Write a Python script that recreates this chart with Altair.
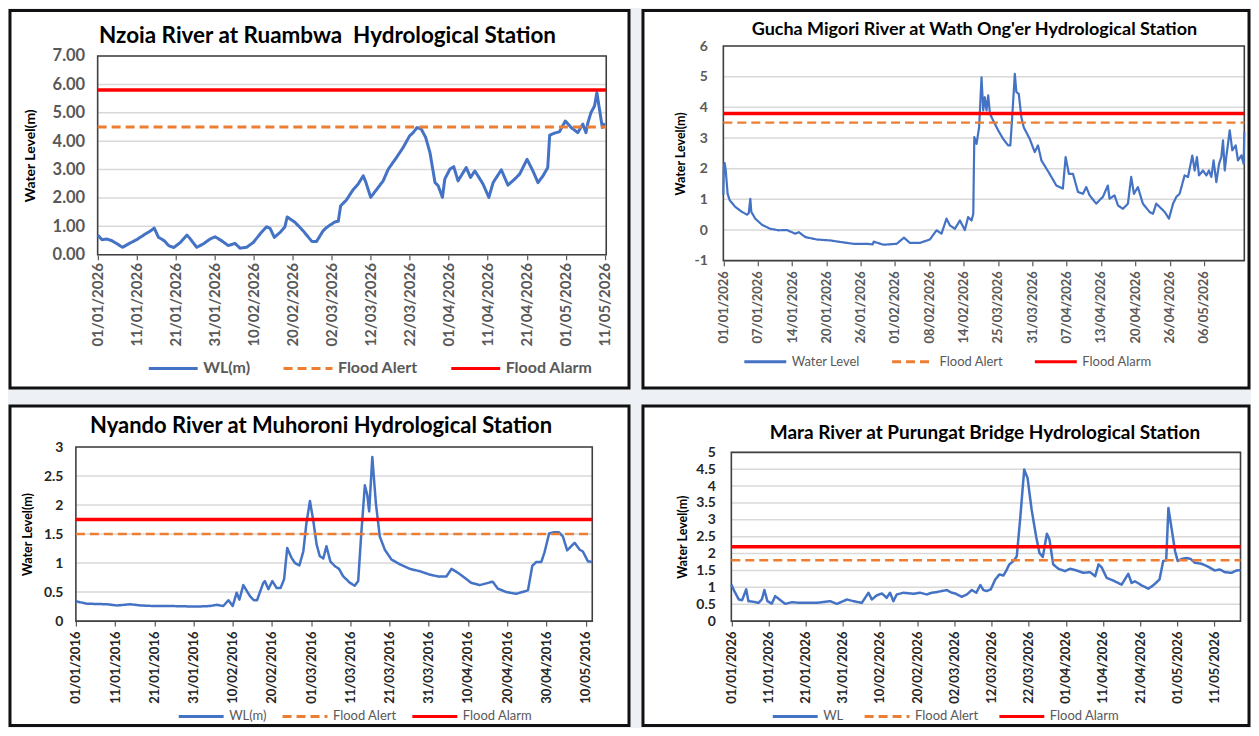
import altair as alt
import pandas as pd

FONT = "Lato"
BLUE, ORANGE, RED = "#4472C4", "#ED7D31", "#FF0000"

# ---------------- Nzoia River at Ruambwa (days since 01/01/2026) ----------------
NZ_DAY = [0, 1.1, 2.4, 3.7, 6.4, 7.9, 10, 11.8, 13.9, 14.5, 15.6, 17.1, 18.2, 19.5, 21.2, 22.9, 23.6,
          25.4, 27.1, 28.8, 30.1, 31.8, 33.5, 35.2, 36.5, 38.2, 39.9, 42, 43.3, 44.2, 45.3, 46.8, 48,
          48.6, 50.6, 52.7, 54.9, 56.1, 57.8, 58.7, 60.8, 61.7, 62.3, 63.8, 65.5, 66.8, 68.1, 68.8, 70,
          71.5, 73.2, 74.5, 76.6, 78.3, 80, 80.9, 81.9, 83, 84.1, 85.2, 86.5, 87.3, 88.4, 89, 90.3, 91.3,
          92.4, 94.5, 95.6, 96.7, 97.5, 98.8, 100.3, 101.4, 103.5, 105.2, 106.9, 108.2, 110.1, 111.6,
          112.9, 114.2, 115.4, 115.9, 117.1, 118.4, 119.9, 121.4, 123.1, 124.4, 125.2, 125.7, 126.5,
          127.4, 128, 129.4, 130]
NZ_WL = [0.69, 0.53, 0.55, 0.49, 0.26, 0.38, 0.53, 0.69, 0.87, 0.94, 0.61, 0.49, 0.32, 0.25, 0.43, 0.69, 0.58,
         0.26, 0.38, 0.55, 0.63, 0.49, 0.32, 0.40, 0.23, 0.26, 0.43, 0.79, 0.98, 0.93, 0.61, 0.79, 0.98,
         1.33, 1.14, 0.84, 0.47, 0.46, 0.84, 0.96, 1.15, 1.18, 1.72, 1.93, 2.29, 2.49, 2.78, 2.54, 2.02,
         2.29, 2.60, 3.01, 3.42, 3.77, 4.19, 4.30, 4.48, 4.42, 4.13, 3.60, 2.54, 2.43, 2.02, 2.66, 3.01, 3.10,
         2.60, 3.07, 2.72, 2.95, 2.78, 2.49, 2.02, 2.54, 2.99, 2.45, 2.66, 2.84, 3.36, 2.95,
         2.54, 2.78, 3.07, 4.21, 4.28, 4.33, 4.71, 4.48, 4.30, 4.60, 4.30, 4.65, 5.01,
         5.24, 5.71, 4.48, 4.63]
NZ_ALERT, NZ_ALARM = 4.5, 5.8
NZ_YTICKS = [0, 1, 2, 3, 4, 5, 6, 7]
NZ_XTICKS = [0, 10, 20, 30, 40, 50, 60, 70, 80, 90, 100, 110, 120, 130]

# ---------------- Gucha Migori River at Wath Ong'er (category steps) ----------------
GU_STEP = [0, 0.3, 0.8, 1.4, 2.5, 3.7, 7, 10.9, 13.8, 14.8, 15.7, 16.3, 18.6, 22.5, 27.3, 32.2, 37, 41.9, 44,
           47.7, 54.5, 62.2, 68.1, 75.8, 83.6, 87, 87.6, 93.2, 101, 105.2, 108.7, 114.5, 120.3, 124.2, 127.1,
           130, 132, 134.9, 137.8, 140.7, 142.6, 144.6, 145.6, 146.2, 147.5, 149, 150.4, 151.4, 152.3, 153.3,
           154.3, 155.3, 157.2, 160.1, 163, 165.9, 167.2, 168.4, 169.8, 170.7, 172.1, 173.6, 175, 178.5,
           181.4, 183.3, 185.3, 190.1, 194, 197.8, 199.4, 201.3, 203.7, 206.6, 209.5, 211.4, 213.4, 217.2,
           221.1, 224, 225, 227.9, 229.9, 232.8, 235.7, 237.6, 239.2, 241.5, 244.4, 248.3, 250.3, 252.2,
           254.2, 257.1, 259.6, 262, 263.9, 265.8, 268.7, 270.7, 273.2, 274.6, 275.9, 277.1, 279.4, 281.4,
           282.9, 284.3, 285.6, 287.2, 288.8, 290.1, 291.1, 292.1, 293, 295, 296.5, 298.5, 299.8, 301.8,
           303.1, 303.5]
GU_WL = [1.15, 2.05, 2.18, 1.94, 1.18, 0.97, 0.75, 0.59, 0.50, 0.55, 1.02, 0.59, 0.37, 0.17, 0.04, -0.01, 0.0, -0.12, -0.07,
         -0.23, -0.31, -0.34, -0.39, -0.45, -0.45, -0.47, -0.38, -0.48, -0.45, -0.25, -0.42, -0.42, -0.31, -0.01, -0.12,
         0.37, 0.15, 0.04, 0.31, 0.0, 0.42, 0.31, 0.53, 3.03, 2.81, 3.35, 4.98, 3.90, 4.33, 3.90,
         4.39, 3.79, 3.57, 3.25, 2.97, 2.76, 2.76, 3.79, 5.09, 4.50, 4.44, 3.68, 3.35, 2.97,
         2.54, 2.76, 2.27, 1.83, 1.45, 1.35, 2.38, 1.83, 1.83, 1.24, 1.18, 1.40, 1.13, 0.86,
         1.08, 1.45, 1.02, 1.13, 0.80, 0.69, 0.86, 1.73, 1.18, 1.40, 0.86, 0.59, 0.53, 0.86,
         0.75, 0.59, 0.37, 0.86, 1.08, 1.18, 1.78, 1.73, 2.43, 1.94, 2.38, 1.78, 1.94, 1.78,
         1.94, 1.73, 2.27, 1.56, 2.16, 2.38, 2.92, 1.94, 2.38, 3.25, 2.60, 2.76, 2.27, 2.43,
         2.16, 3.19]
GU_ALERT, GU_ALARM = 3.5, 3.8
GU_YTICKS = [-1, 0, 1, 2, 3, 4, 5, 6]
GU_XTICKS = [0, 20, 40, 60, 80, 100, 120, 140, 160, 180, 200, 220, 240, 260, 280]
GU_XLABELS = ["01/01/2026", "07/01/2026", "14/01/2026", "20/01/2026", "26/01/2026", "01/02/2026",
              "08/02/2026", "14/02/2026", "25/03/2026", "31/03/2026", "07/04/2026", "13/04/2026",
              "20/04/2026", "26/04/2026", "06/05/2026"]

# ---------------- Nyando River at Muhoroni (days since 01/01/2016) ----------------
NY_DAY = [0, 2.8, 7.9, 10.5, 13.9, 16.4, 19.8, 24, 30.8, 34.2, 35.9, 37.6, 38.9, 40, 41, 41.7, 42.7, 44.4, 45.4,
          46.2, 47.8, 48.2, 49.1, 50.1, 51.2, 52.2, 53.1, 53.9, 55, 55.9, 57, 58, 58.8, 59.7, 60.5, 61.4, 62.2,
          63.1, 63.9, 64.9, 66, 67.1, 68.2, 69.9, 71.1, 72, 72.8, 73.7, 74.3, 74.8, 75.6, 76.5, 77.5, 78.8,
          80.5, 82.6, 85.2, 87.7, 90.3, 92.4, 94.5, 95.8, 97.5, 99.1, 100.8, 103, 106.3, 107.6, 109.8, 112.3,
          115.3, 116.4, 117.4, 118.7, 119.5, 120.7, 121.7, 123.2, 124.2, 125.3, 127.2, 128.5, 129.3, 130.6,
          131.7]
NY_WL = [0.34, 0.30, 0.29, 0.27, 0.29, 0.27, 0.26, 0.26, 0.25, 0.26, 0.28, 0.26, 0.36, 0.26, 0.49, 0.37, 0.62, 0.43, 0.36,
         0.36, 0.66, 0.69, 0.55, 0.69, 0.57, 0.57, 0.72, 1.26, 1.09, 1.00, 0.96, 1.20, 1.69, 2.07, 1.75, 1.32, 1.12,
         1.08, 1.29, 1.03, 0.95, 0.90, 0.77, 0.66, 0.61, 0.69, 1.52, 2.34, 2.18, 1.89, 2.83, 2.04, 1.46, 1.23,
         1.06, 0.98, 0.90, 0.86, 0.80, 0.77, 0.77, 0.90, 0.83, 0.75, 0.66, 0.62, 0.68, 0.56, 0.50, 0.47,
         0.53, 0.95, 1.02, 1.02, 1.18, 1.51, 1.53, 1.53, 1.46, 1.22, 1.35, 1.23, 1.20, 1.03,
         1.02]
NY_ALERT, NY_ALARM = 1.5, 1.75
NY_YTICKS = [0, 0.5, 1, 1.5, 2, 2.5, 3]
NY_XTICKS = [0, 10, 20, 30, 40, 50, 60, 70, 80, 90, 100, 110, 120, 130]

# ---------------- Mara River at Purungat Bridge (days since 01/01/2026) ----------------
MA_DAY = [0, 0.8, 2, 2.9, 4, 4.6, 6, 7.3, 8.2, 8.9, 9.7, 10.9, 11.8, 13.2, 14.5, 16.3, 18.5, 23, 26.6, 28.4,
          31.1, 32.9, 35.1, 36.9, 37.8, 39.1, 40.5, 41.8, 42.7, 43.6, 44.5, 46.3, 49, 50.8, 52.6, 53.9, 55.3,
          56.6, 58, 59.3, 60.2, 62, 63.4, 64.7, 65.9, 67, 67.8, 68.7, 69.8, 71, 72.1, 73.2, 73.9, 74.8, 75.9,
          76.8, 77.7, 78.8, 79.7, 80.8, 82, 82.9, 83.8, 84.9, 85.6, 86.6, 88, 89.8, 91.1, 92.9, 94.7, 96.5,
          97.9, 98.8, 99.6, 101, 102.8, 105, 106.8, 107.7, 108.6, 110.4, 112.2, 113.5, 115.2, 116.2, 117,
          117.6, 118.5, 119.4, 120.1, 121.1, 122.5, 123.6, 124.7, 126.5, 128.3, 130.1, 131.4, 132.8, 134.6,
          135.9, 137]
MA_WL = [1.08, 0.89, 0.64, 0.62, 0.94, 0.59, 0.57, 0.54, 0.64, 0.92, 0.59, 0.52, 0.74, 0.62, 0.51, 0.56, 0.54, 0.54, 0.59, 0.51,
         0.64, 0.59, 0.54, 0.84, 0.64, 0.76, 0.82, 0.69, 0.84, 0.59, 0.79, 0.84, 0.81, 0.84, 0.79, 0.84, 0.86,
         0.89, 0.92, 0.84, 0.82, 0.72, 0.79, 0.92, 0.84, 1.07, 0.92, 0.89, 0.94, 1.23, 1.38, 1.35, 1.48, 1.68, 1.78,
         1.92, 3.01, 4.49, 4.24, 3.30, 2.51, 2.02, 1.90, 2.59, 2.42, 1.68, 1.55, 1.48, 1.55, 1.50, 1.43, 1.45,
         1.33, 1.68, 1.60, 1.28, 1.20, 1.08, 1.40, 1.13, 1.18, 1.06, 0.96, 1.06, 1.23, 1.78, 1.80,
         3.35, 2.71, 2.07, 1.78, 1.84, 1.87, 1.84, 1.73, 1.70, 1.61, 1.50, 1.53, 1.45, 1.43,
         1.50, 1.51]
MA_ALERT, MA_ALARM = 1.8, 2.2
MA_YTICKS = [0, 0.5, 1, 1.5, 2, 2.5, 3, 3.5, 4, 4.5, 5]
MA_XTICKS = [0, 10, 20, 30, 40, 50, 60, 70, 80, 90, 100, 110, 120, 130]

assert len(NZ_DAY) == len(NZ_WL) and len(GU_STEP) == len(GU_WL)
assert len(NY_DAY) == len(NY_WL) and len(MA_DAY) == len(MA_WL)

SERIES_COLORS = [BLUE, ORANGE, RED]
SERIES_DASH = [[1, 0], [9, 5], [1, 0]]


def panel(title, xs, ws, alert, alarm, names, xdom, ydom, yticks, xticks, xlab, ylab, g):
    W, H = g["W"], g["H"]
    xr, yr = g["xr"], g["yr"]
    xsc = alt.Scale(domain=xdom, range=xr, nice=False, zero=False)
    ysc = alt.Scale(domain=ydom, range=yr, nice=False, zero=False)
    xaxis = alt.Axis(values=xticks, labelExpr=xlab, labelAngle=270, labelAlign="right",
                     labelBaseline="middle", labelFont=FONT, labelFontSize=g["xfs"],
                     labelFontWeight="bold", labelColor=g["lc"], labelPadding=g["xpad"],
                     labelOverlap=False, labelFlush=False, ticks=True, tickSize=5,
                     tickColor="#595959", tickWidth=1.2, domain=False, grid=False, title=None,
                     offset=yr[0] - H)
    yaxis = alt.Axis(values=yticks, labelExpr=ylab, labelFont=FONT, labelFontSize=g["yfs"],
                     labelFontWeight="bold", labelColor=g["lc"], labelPadding=g["ypad"],
                     ticks=False, domain=False, grid=False, labelFlush=False, labelOverlap=False,
                     title="Water Level(m)", titleFont=FONT, titleFontSize=g["tfs"],
                     titleFontWeight="bold", titleColor="black", titleAngle=270,
                     titleAlign="center", titleBaseline="middle",
                     titleX=g["tx"] - xr[0], titleY=(yr[0] + yr[1]) / 2, offset=-xr[0])
    X = alt.X("x:Q", scale=xsc, axis=xaxis)
    Y = alt.Y("y:Q", scale=ysc, axis=yaxis)

    grid_df = pd.DataFrame({"x": [xdom[0]] * len(yticks), "x2": [xdom[1]] * len(yticks), "y": yticks})
    grid = alt.Chart(grid_df).mark_rule(color="#d9d9d9", strokeWidth=1.5).encode(x=X, x2="x2", y=Y)

    frame_df = pd.DataFrame({"x": [xdom[0]], "x2": [xdom[1]], "y": [ydom[0]], "y2": [ydom[1]]})
    frame = alt.Chart(frame_df).mark_rect(fillOpacity=0, stroke="#404040", strokeWidth=1.6).encode(
        x=X, x2="x2", y=Y, y2="y2")

    rows = [{"x": a, "y": b, "s": names[0]} for a, b in zip(xs, ws)]
    rows += [{"x": xdom[0], "y": alert, "s": names[1]}, {"x": xdom[1], "y": alert, "s": names[1]}]
    rows += [{"x": xdom[0], "y": alarm, "s": names[2]}, {"x": xdom[1], "y": alarm, "s": names[2]}]
    df = pd.DataFrame(rows)

    leg = alt.Legend(title=None, orient="none", legendX=g["lx"], legendY=g["ly"],
                     direction="horizontal", symbolType="stroke", symbolSize=g["sl"] ** 2,
                     symbolStrokeWidth=3, labelFont=FONT, labelFontSize=g["lfs"],
                     labelColor="#595959", labelFontWeight=g["lfw"], columnPadding=g["cp"],
                     labelOffset=4)
    line = alt.Chart(df).mark_line(strokeJoin="round").encode(
        x=X, y=Y,
        color=alt.Color("s:N", scale=alt.Scale(domain=names, range=SERIES_COLORS), legend=leg),
        strokeDash=alt.StrokeDash("s:N", scale=alt.Scale(domain=names, range=SERIES_DASH), legend=leg),
        strokeWidth=alt.condition(f"datum.s == '{names[2]}'", alt.value(g["aw"]), alt.value(g["lw"])),
    )
    return alt.layer(grid, frame, line).properties(
        width=W, height=H,
        title=alt.TitleParams(title, font=FONT, fontSize=g["fs"], fontWeight="bold", color="black",
                              anchor="middle", frame="group", offset=g["toff"], dx=g["tdx"]))


def date_expr(year):
    return f"timeFormat(datetime({year}, 0, 1 + datum.value), '%d/%m/%Y')"


gu_expr = "[" + ",".join(f"'{s}'" for s in GU_XLABELS) + "][round(datum.value / 20)]"

G1 = dict(W=620, H=378, xr=[87.8, 597.2], yr=[244.5, 45.5], xfs=15, yfs=16.5, lc="#595959", xpad=3, ypad=13,
          tfs=14, tx=20.5, lx=137.5, ly=332.5, sl=49, lfs=16, lfw="bold", cp=27, lw=3, aw=3.5,
          fs=22.5, toff=-36.5, tdx=8)
G2 = dict(W=607, H=378, xr=[80.5, 602.3], yr=[250.5, 35.5], xfs=13, yfs=14, lc="#595959", xpad=5, ypad=16,
          tfs=12.5, tx=37.5, lx=100, ly=329, sl=42, lfs=13, lfw="normal", cp=25, lw=2.2, aw=3.5,
          fs=18, toff=-28.5, tdx=28.5)
G3 = dict(W=620, H=320, xr=[66, 583.2], yr=[215.5, 41.2], xfs=13, yfs=14, lc="#262626", xpad=5, ypad=13,
          tfs=12.5, tx=17.5, lx=167.5, ly=287, sl=45, lfs=13, lfw="normal", cp=9, lw=2.5, aw=3.5,
          fs=22, toff=-32.5, tdx=1.5)
G4 = dict(W=607, H=320, xr=[88.5, 598.5], yr=[215.5, 46.5], xfs=13, yfs=14, lc="#262626", xpad=5, ypad=16,
          tfs=12.5, tx=39.5, lx=128.5, ly=287, sl=45, lfs=13, lfw="normal", cp=14, lw=2.5, aw=3.5,
          fs=19, toff=-37, tdx=39)

p1 = panel("Nzoia River at Ruambwa\u00a0 Hydrological Station", NZ_DAY, NZ_WL, NZ_ALERT, NZ_ALARM,
           ["WL(m)", "Flood Alert", "Flood Alarm"], [0, 130.4], [0, 7], NZ_YTICKS, NZ_XTICKS,
           date_expr(2026), "format(datum.value, '.2f')", G1)
p2 = panel("Gucha Migori River at Wath Ong'er Hydrological Station", GU_STEP, GU_WL, GU_ALERT, GU_ALARM,
           ["Water Level", "Flood Alert", "Flood Alarm"], [0, 303.5], [-1, 6], GU_YTICKS, GU_XTICKS,
           gu_expr, "'' + datum.value", G2)
p3 = panel("Nyando River at Muhoroni Hydrological Station", NY_DAY, NY_WL, NY_ALERT, NY_ALARM,
           ["WL(m)", "Flood Alert", "Flood Alarm"], [0, 131.7], [0, 3], NY_YTICKS, NY_XTICKS,
           date_expr(2016), "'' + datum.value", G3)
p4 = panel("Mara River at Purungat Bridge Hydrological Station", MA_DAY, MA_WL, MA_ALERT, MA_ALARM,
           ["WL", "Flood Alert", "Flood Alarm"], [0, 137], [0, 5], MA_YTICKS, MA_XTICKS,
           date_expr(2026), "'' + datum.value", G4)

top = alt.hconcat(p1, p2, spacing=10).resolve_scale(color="independent", strokeDash="independent").resolve_legend(
    color="independent", strokeDash="independent")
bottom = alt.hconcat(p3, p4, spacing=10).resolve_scale(color="independent", strokeDash="independent").resolve_legend(
    color="independent", strokeDash="independent")
chart = alt.vconcat(top, bottom, spacing=14).resolve_scale(
    color="independent", strokeDash="independent").resolve_legend(color="independent", strokeDash="independent")

chart = chart.properties(padding=0).configure(background="#edf0f4").configure_view(
    fill="white", stroke="#111111", strokeWidth=3)

chart.save("out.html", embed_options={"renderer": "svg", "actions": False})
